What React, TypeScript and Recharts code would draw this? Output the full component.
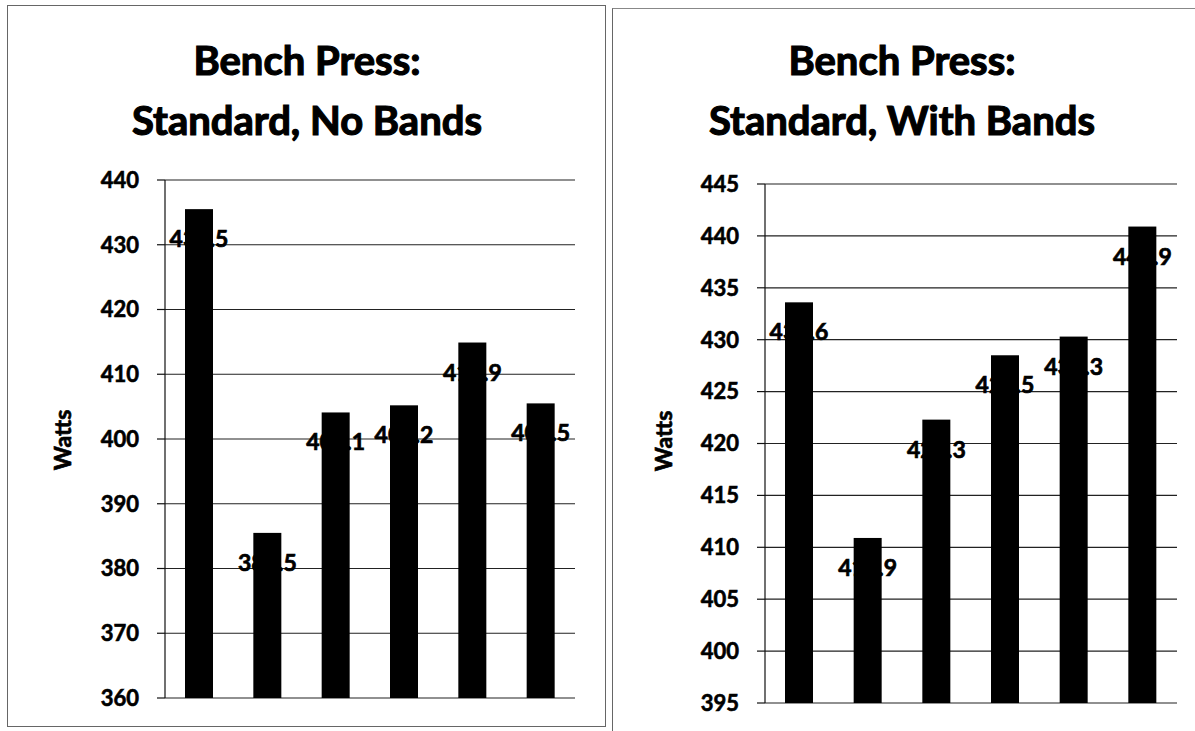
import React from 'react';
import { BarChart, Bar, XAxis, YAxis, CartesianGrid } from 'recharts';

const categories = ['1', '2', '3', '4', '5', '6'];
const noBandsValues = [435.5, 385.5, 404.1, 405.2, 414.9, 405.5];
const withBandsValues = [433.6, 410.9, 422.3, 428.5, 430.3, 440.9];
const noBandsTicks = [360, 370, 380, 390, 400, 410, 420, 430, 440];
const withBandsTicks = [395, 400, 405, 410, 415, 420, 425, 430, 435, 440, 445];
const titleLine1 = 'Bench Press:';
const noBandsTitle = 'Standard, No Bands';
const withBandsTitle = 'Standard, With Bands';
const axisTitle = 'Watts';

const FONT = 'Lato, "Open Sans", sans-serif';

const noBandsData = categories.map((c, i) => ({ cat: c, value: noBandsValues[i] }));
const withBandsData = categories.map((c, i) => ({ cat: c, value: withBandsValues[i] }));

// Label drawn first, bar drawn over it (as in the source, where the bar hides the middle digits)
const BarWithLabel = (props: any) => {
  const { x, y, width, height, value } = props;
  const v = Array.isArray(value) ? value[1] : value;
  return (
    <g>
      <text
        x={x + width / 2}
        y={y + 29}
        textAnchor="middle"
        dominantBaseline="central"
        fontFamily={FONT}
        fontWeight={700}
        fontSize={23}
        fill="#000"
        stroke="#000"
        strokeWidth={0.7}
      >
        {Number(v).toFixed(1)}
      </text>
      <rect x={x} y={y} width={width} height={height} fill="#000" />
    </g>
  );
};

const Panel = (props: {
  left: number;
  width: number;
  data: any[];
  ticks: number[];
  title2: string;
  margin: any;
  titleCenter: number;
  wattsX: number;
  wattsY: number;
}) => {
  const { left, width, data, ticks, title2, margin, titleCenter, wattsX, wattsY } = props;
  return (
    <div style={{ position: 'absolute', left, top: 0, width, height: 731 }}>
      <div
        style={{
          position: 'absolute',
          left: titleCenter - 250,
          width: 500,
          top: 30,
          textAlign: 'center',
          fontFamily: FONT,
          fontWeight: 700,
          fontSize: 40,
          lineHeight: '60px',
          color: '#000',
          WebkitTextStroke: '1.2px #000',
        }}
      >
        <div>{titleLine1}</div>
        <div>{title2}</div>
      </div>
      <div
        style={{
          position: 'absolute',
          left: wattsX - 50,
          top: wattsY - 15,
          width: 100,
          height: 30,
          lineHeight: '30px',
          textAlign: 'center',
          transform: 'rotate(-90deg)',
          fontFamily: FONT,
          fontWeight: 700,
          fontSize: 23,
          color: '#000',
          WebkitTextStroke: '0.7px #000',
        }}
      >
        {axisTitle}
      </div>
      <div style={{ position: 'absolute', left: 0, top: 0 }}>
        <BarChart width={width} height={731} data={data} margin={margin} barSize={28}>
          <CartesianGrid horizontal={true} vertical={false} stroke="#222" strokeWidth={1.2} />
          <XAxis
            dataKey="cat"
            tick={false}
            tickLine={false}
            axisLine={{ stroke: '#111', strokeWidth: 1.2 }}
            height={0}
          />
          <YAxis
            domain={[ticks[0], ticks[ticks.length - 1]]}
            ticks={ticks}
            interval={0}
            width={165}
            tickSize={8}
            tickMargin={18}
            axisLine={{ stroke: '#111', strokeWidth: 1.2 }}
            tickLine={{ stroke: '#111', strokeWidth: 1.2 }}
            tick={{ fill: '#000', stroke: '#000', strokeWidth: 0.6, fontFamily: FONT, fontWeight: 700, fontSize: 22 }}
            allowDataOverflow={true}
          />
          <Bar dataKey="value" fill="#000" isAnimationActive={false} shape={BarWithLabel} />
        </BarChart>
      </div>
    </div>
  );
};

export default function App() {
  return (
    <div
      style={{
        position: 'absolute',
        left: 0,
        top: 0,
        width: 1195,
        height: 731,
        background: '#fff',
        overflow: 'hidden',
      }}
    >
      <div
        style={{
          position: 'absolute',
          left: 7,
          top: 5,
          width: 599,
          height: 722,
          border: '1px solid #666',
          boxSizing: 'border-box',
        }}
      />
      <div
        style={{
          position: 'absolute',
          left: 612,
          top: 8,
          width: 600,
          height: 740,
          borderLeft: '1px solid #666',
          borderTop: '1px solid #888',
          boxSizing: 'border-box',
        }}
      />
      <Panel
        left={0}
        width={606}
        data={noBandsData}
        ticks={noBandsTicks}
        title2={noBandsTitle}
        margin={{ top: 180, right: 31, bottom: 33, left: 0 }}
        titleCenter={307}
        wattsX={62}
        wattsY={440}
      />
      <Panel
        left={600}
        width={595}
        data={withBandsData}
        ticks={withBandsTicks}
        title2={withBandsTitle}
        margin={{ top: 184, right: 18, bottom: 28, left: 0 }}
        titleCenter={302}
        wattsX={63}
        wattsY={441}
      />
    </div>
  );
}
